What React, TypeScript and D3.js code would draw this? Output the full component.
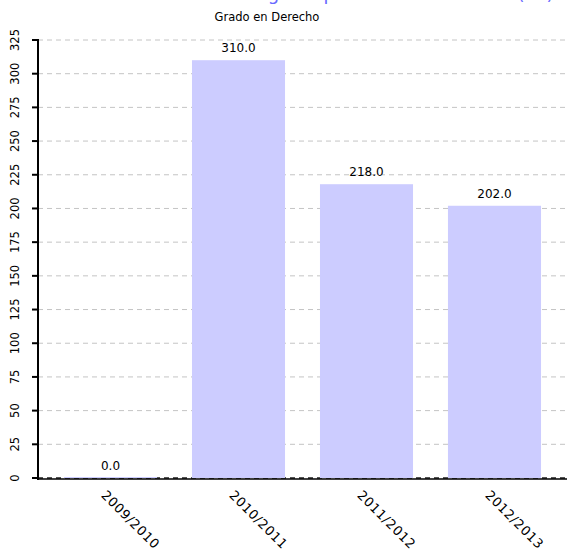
import React from "react";
import * as d3 from "d3";

const categories = ["2009/2010", "2010/2011", "2011/2012", "2012/2013"];
const values = [0, 310, 218, 202];
const yTicks = [0, 25, 50, 75, 100, 125, 150, 175, 200, 225, 250, 275, 300, 325];
const titleText = "Estudiantes de nuevo ingreso por curso académico (Nº)";
const subtitleText = "Grado en Derecho";

const W = 567;
const H = 549;
const FONT = "'DejaVu Sans', Verdana, sans-serif";

export default function App() {
  const x = d3
    .scaleBand<string>()
    .domain(categories)
    .range([38, 567])
    .paddingInner(0.273)
    .paddingOuter(0.203);
  const y = d3.scaleLinear().domain([0, 325]).range([478, 40]);

  return (
    <svg
      width={W}
      height={H}
      style={{ position: "absolute", left: 0, top: 0, display: "block" }}
      fontFamily={FONT}
    >
      <rect width={W} height={H} fill="#fff" />
      <text x={302} y={0} textAnchor="middle" fontSize={18} fill="#6a6aff">
        {titleText}
      </text>
      <text x={267} y={21} textAnchor="middle" fontSize={11.5} fill="#000">
        {subtitleText}
      </text>
      {/* grid */}
      {yTicks.map((t) => (
        <line
          key={"g" + t}
          x1={38}
          x2={W}
          y1={y(t)}
          y2={y(t)}
          stroke={t === 0 ? "#555" : "#c4c4c4"}
          strokeWidth={t === 0 ? 2 : 1}
          strokeDasharray="5,4"
        />
      ))}
      {/* bars */}
      {categories.map((c, i) => {
        const top = y(values[i]);
        const h = Math.max(1, y(0) - top);
        return (
          <g key={c}>
            <rect
              x={x(c)}
              y={Math.min(top, y(0) - 1)}
              width={x.bandwidth()}
              height={h}
              fill="#ccccff"
            />
            <text
              x={(x(c) as number) + x.bandwidth() / 2}
              y={top - 8}
              textAnchor="middle"
              fontSize={12}
              fill="#000"
            >
              {values[i].toFixed(1)}
            </text>
          </g>
        );
      })}
      {/* x axis */}
      <line x1={38} x2={W} y1={479} y2={479} stroke="#000" strokeWidth={1.5} />
      {categories.map((c) => {
        const cx = (x(c) as number) + x.bandwidth() / 2;
        return (
          <text
            key={"xl" + c}
            transform={`translate(${cx - 10},${496}) rotate(45)`}
            fontSize={13}
            letterSpacing={0.6}
            fill="#000"
          >
            {c}
          </text>
        );
      })}
      {/* y axis */}
      <line x1={38} x2={38} y1={39} y2={480} stroke="#000" strokeWidth={2} />
      {yTicks.map((t) => (
        <g key={"yt" + t}>
          <line x1={32} x2={38} y1={y(t)} y2={y(t)} stroke="#000" strokeWidth={2} />
          <text
            transform={`translate(${19},${y(t)}) rotate(-90)`}
            textAnchor="middle"
            fontSize={11.5}
            fill="#000"
          >
            {t}
          </text>
        </g>
      ))}
    </svg>
  );
}
